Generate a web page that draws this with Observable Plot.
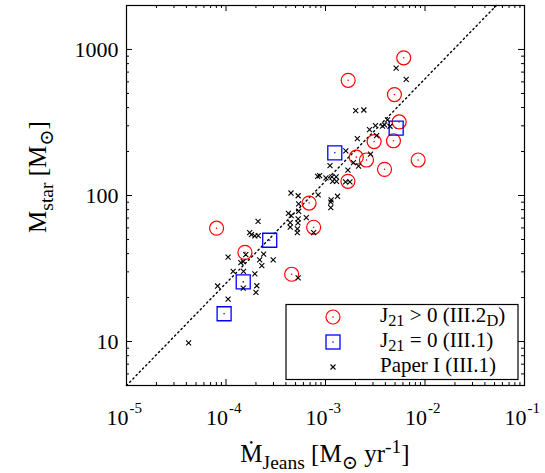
<!DOCTYPE html>
<html><head><meta charset="utf-8">
<script src="https://cdn.jsdelivr.net/npm/d3@7"></script>
<script src="https://cdn.jsdelivr.net/npm/@observablehq/plot@0.6"></script>
<style>body{margin:0;background:#fff}</style>
</head><body><div id="chart"></div>
<script>
// J21 > 0 (III.2_D) — red circles
const j21PosMdot = [6.11e-3, 1.69e-3, 4.93e-3, 5.50e-3, 3.08e-3, 4.82e-3, 2.04e-3, 2.58e-3, 8.53e-3, 3.92e-3, 1.68e-3, 6.84e-4, 8.04e-5, 7.60e-4, 1.55e-4, 4.57e-4];
const j21PosMstar = [877, 615, 491, 319, 234, 237, 183, 175, 175, 151, 125, 88.8, 59.7, 60.6, 40.8, 28.9];
// J21 = 0 (III.1) — blue squares
const j21ZeroMdot = [5.13e-3, 1.24e-3, 2.75e-4, 1.49e-4, 9.57e-5];
const j21ZeroMstar = [289, 196, 49.4, 25.6, 15.5];
// Paper I (III.1) — black crosses
const paperIMdot = [5.13e-3, 6.47e-3, 2.01e-3, 2.43e-3, 4.20e-3, 3.18e-3, 3.74e-3, 3.92e-3, 4.45e-3, 2.77e-3,
  2.09e-3, 3.26e-3, 1.60e-3, 2.84e-3, 1.91e-3, 2.15e-3, 1.11e-3, 1.68e-3, 8.34e-4, 8.73e-4,
  1.01e-3, 1.16e-3, 1.28e-3, 1.18e-3, 1.29e-3, 1.59e-3, 1.76e-3, 4.50e-4, 5.31e-4, 8.44e-4,
  1.32e-3, 1.14e-3, 1.13e-3, 1.13e-3, 5.37e-4, 5.37e-4, 4.24e-4, 4.52e-4, 5.31e-4, 6.41e-4,
  4.42e-4, 4.42e-4, 5.28e-4, 5.22e-4, 5.21e-4, 7.60e-4, 2.10e-4, 1.73e-4, 1.80e-4, 1.95e-4,
  2.11e-4, 2.39e-4, 1.58e-4, 1.05e-4, 1.41e-4, 1.49e-4, 2.18e-4, 2.98e-4, 2.29e-4, 1.18e-4,
  1.50e-4, 1.95e-4, 5.31e-4, 8.24e-5, 1.49e-4, 2.04e-4, 2.00e-4, 1.05e-4, 4.21e-5];
const paperIMstar = [746, 625, 381, 385, 330, 301, 299, 305, 298, 283,
  245, 257, 202, 192, 168, 159, 160, 149, 135, 137,
  132, 134, 134, 125, 125, 124, 124, 104, 99.6, 101,
  98.8, 93.3, 90.2, 82.7, 87.7, 78.0, 75.5, 72.9, 69.2, 70.6,
  65.3, 60.8, 65.0, 59.1, 55.7, 55.6, 66.6, 55.7, 54.0, 52.9,
  53.2, 39.7, 39.4, 37.9, 34.7, 35.3, 36.3, 36.3, 33.1, 30.2,
  30.2, 29.1, 27.3, 24.0, 23.2, 24.1, 21.7, 19.5, 9.8];
// dotted fit line endpoints
const fitMdot = [1e-5, 5.21e-2];
const fitMstar = [5, 2000];
// ticks
const xMajor = [1e-5, 1e-4, 1e-3, 1e-2, 1e-1];
const xExponents = ["-5", "-4", "-3", "-2", "-1"];
const yMajor = [10, 100, 1000];
const xMinor = d3.range(-5, -1).flatMap(e => d3.range(2, 10).map(m => m * 10 ** e));
const yMinor = [6, 7, 8, 9, 20, 30, 40, 50, 60, 70, 80, 90, 200, 300, 400, 500, 600, 700, 800, 900];

const zip = (xs, ys) => xs.map((x, i) => ({x, y: ys[i]}));
const circles = zip(j21PosMdot, j21PosMstar);
const squares = zip(j21ZeroMdot, j21ZeroMstar);
const crosses = zip(paperIMdot, paperIMstar);
const fit = zip(fitMdot, fitMstar);

const W = 545, H = 473, mL = 126, mR = 21, mT = 5, mB = 88;
const fw = W - mL - mR, fh = H - mT - mB;
const FONT = "'Liberation Serif', 'DejaVu Serif', serif";
const majLen = 6, minLen = 3;

const svg = Plot.plot({
  width: W, height: H,
  marginLeft: mL, marginRight: mR, marginTop: mT, marginBottom: mB,
  style: {fontFamily: FONT, fontSize: "22px", background: "#fff", color: "#000"},
  x: {type: "log", domain: [1e-5, 1e-1], axis: null},
  y: {type: "log", domain: [5, 2000], axis: null},
  marks: [
    Plot.ruleX(xMajor, {x: d => d, insetTop: fh - majLen, stroke: "#000"}),
    Plot.ruleX(xMajor, {x: d => d, insetBottom: fh - majLen, stroke: "#000"}),
    Plot.ruleX(xMinor, {x: d => d, insetTop: fh - minLen, stroke: "#000"}),
    Plot.ruleX(xMinor, {x: d => d, insetBottom: fh - minLen, stroke: "#000"}),
    Plot.ruleY(yMajor, {y: d => d, insetRight: fw - majLen, stroke: "#000"}),
    Plot.ruleY(yMajor, {y: d => d, insetLeft: fw - majLen, stroke: "#000"}),
    Plot.ruleY(yMinor, {y: d => d, insetRight: fw - minLen, stroke: "#000"}),
    Plot.ruleY(yMinor, {y: d => d, insetLeft: fw - minLen, stroke: "#000"}),
    Plot.line(fit, {x: "x", y: "y", stroke: "#000", strokeWidth: 1.4, strokeDasharray: "1.4,3.2"}),
    Plot.dot(circles, {x: "x", y: "y", r: 7, stroke: "#ff0000", strokeWidth: 1.2, fill: "none"}),
    Plot.dot(circles, {x: "x", y: "y", r: 0.8, fill: "#ff0000"}),
    Plot.dot(squares, {x: "x", y: "y", symbol: "square", r: 7.9, stroke: "#0000ff", strokeWidth: 1.3, fill: "none"}),
    Plot.dot(squares, {x: "x", y: "y", r: 0.8, fill: "#0000ff"}),
    Plot.dot(crosses, {x: "x", y: "y", symbol: "times", r: 2.4, stroke: "#000", strokeWidth: 1.1}),
    Plot.frame({stroke: "#000", strokeWidth: 1.2}),
    Plot.text(xMajor, {x: d => d, text: () => "10", frameAnchor: "bottom", lineAnchor: "bottom", dy: 39, dx: 2, textAnchor: "end", fontSize: 22}),
    Plot.text(xMajor, {x: d => d, text: (d, i) => xExponents[i], frameAnchor: "bottom", lineAnchor: "bottom", dy: 27, dx: 3, textAnchor: "start", fontSize: 15}),
    Plot.text(yMajor, {y: d => d, text: d => String(d), frameAnchor: "left", dx: -8, textAnchor: "end", fontSize: 22})
  ]
});

const root = d3.select(svg);
function rich(parent, x, y, parts, size, anchor, subShift) {
  const t = parent.append("text").attr("x", x).attr("y", y)
    .attr("font-family", FONT).attr("font-size", size).attr("text-anchor", anchor || "start").attr("fill", "#000");
  let shift = 0;
  const sub = subShift == null ? 0.28 : subShift;
  for (const [s, kind] of parts) {
    const target = kind === "sub" ? size * sub : kind === "sup" ? -size * 0.38 : 0;
    t.append("tspan").attr("dy", target - shift).attr("font-size", kind ? size * 0.78 : size).text(s);
    shift = target;
  }
  return t;
}
// axis labels
rich(root, mL + fw / 2, 462, [["Ṁ"], ["Jeans", "sub"], [" [M"], ["⊙", "sub"], [" yr"], ["-1", "sup"], ["]"]], 25, "middle");
const gy = root.append("g").attr("transform", "translate(46,177) rotate(-90)");
rich(gy, 0, 0, [["M"], ["star", "sub"], [" [M"], ["⊙", "sub"], ["]"]], 25, "middle");

// legend
const lg = root.append("g");
lg.append("rect").attr("x", 286).attr("y", 304.5).attr("width", 232).attr("height", 75)
  .attr("fill", "#fff").attr("stroke", "#000").attr("stroke-width", 1.2);
lg.append("circle").attr("cx", 333).attr("cy", 317).attr("r", 7).attr("fill", "none").attr("stroke", "#ff0000").attr("stroke-width", 1.2);
lg.append("circle").attr("cx", 333).attr("cy", 317).attr("r", 0.8).attr("fill", "#ff0000");
lg.append("rect").attr("x", 326).attr("y", 335).attr("width", 14).attr("height", 14).attr("fill", "none").attr("stroke", "#0000ff").attr("stroke-width", 1.3);
lg.append("circle").attr("cx", 333).attr("cy", 342).attr("r", 0.8).attr("fill", "#0000ff");
lg.append("path").attr("d", "M330.5,364.5L335.5,369.5M330.5,369.5L335.5,364.5").attr("stroke", "#000").attr("stroke-width", 1.1);
rich(lg, 380, 321.5, [["J"], ["21", "sub"], [" > 0 (III.2"], ["D", "sub"], [")"]], 21, "start", 0.2);
rich(lg, 380, 346.5, [["J"], ["21", "sub"], [" = 0 (III.1)"]], 21, "start", 0.2);
rich(lg, 380, 371.5, [["Paper I (III.1)"]], 21, "start");

document.getElementById("chart").appendChild(svg);
</script>
</body></html>
